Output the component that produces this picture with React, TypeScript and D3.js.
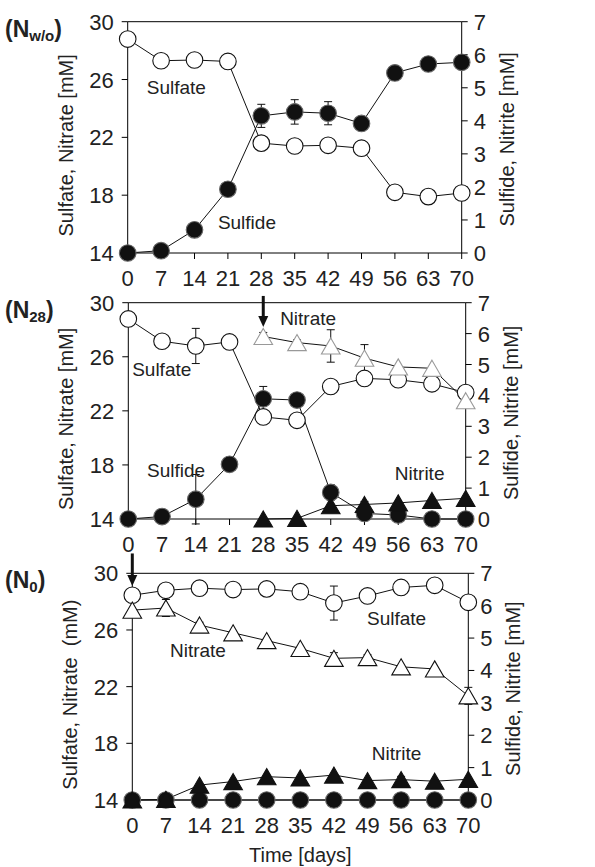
import React from 'react';
import * as d3 from 'd3';

const days = [0, 7, 14, 21, 28, 35, 42, 49, 56, 63, 70];
const daysLate = [28, 35, 42, 49, 56, 63, 70];
const leftTicks = [14, 18, 22, 26, 30];
const rightTicks = [0, 1, 2, 3, 4, 5, 6, 7];

// (Nw/o)
const nwoSulfate = [28.8, 27.3, 27.35, 27.25, 21.6, 21.4, 21.45, 21.25, 18.2, 17.9, 18.15];
const nwoSulfide = [0, 0.07, 0.7, 1.93, 4.15, 4.27, 4.23, 3.92, 5.45, 5.72, 5.77];
const nwoSulfideErr = [0, 0, 0.05, 0.12, 0.35, 0.37, 0.35, 0.05, 0.22, 0.05, 0.05];

// (N28)
const n28Sulfate = [28.8, 27.15, 26.8, 27.1, 21.55, 21.3, 23.8, 24.4, 24.3, 24.0, 23.35];
const n28SulfateErr = [0, 0, 1.3, 0, 0, 0, 0.3, 0, 0, 0, 0];
const n28Nitrate = [27.5, 27.05, 26.8, 25.9, 25.25, 25.15, 22.75];
const n28NitrateErr = [0.3, 0.2, 1.2, 1.0, 0, 0, 0];
const n28Sulfide = [0, 0.08, 0.64, 1.77, 3.89, 3.85, 0.86, 0.18, 0.13, 0, 0];
const n28SulfideErr = [0, 0, 0.8, 0, 0.4, 0, 0.25, 0.2, 0, 0, 0];
const n28Nitrite = [0, 0.02, 0.43, 0.47, 0.52, 0.6, 0.67];
const n28NitriteErr = [0, 0, 0, 0.1, 0, 0, 0];

// (N0)
const n0Sulfate = [28.45, 28.8, 28.95, 28.85, 28.9, 28.7, 27.9, 28.4, 29.0, 29.15, 27.95];
const n0SulfateErr = [0, 0, 0, 0, 0, 0, 1.2, 0.4, 0, 0, 0.15];
const n0Nitrate = [27.4, 27.55, 26.35, 25.8, 25.25, 24.7, 24.0, 24.05, 23.4, 23.25, 21.35];
const n0NitrateErr = [0, 0.6, 0.2, 0.1, 0.1, 0, 0.4, 0.2, 0, 0, 0.6];
const n0Sulfide = [0, 0, 0, 0, 0, 0, 0, 0, 0, 0, 0];
const n0Nitrite = [0, 0.02, 0.46, 0.57, 0.72, 0.68, 0.77, 0.6, 0.63, 0.58, 0.64];
const n0NitriteErr = [0, 0, 0, 0, 0, 0, 0, 0, 0.1, 0, 0];

const font = 'Liberation Sans, Arial, sans-serif';

type Series = {
  x: number[];
  v: number[];
  err?: number[];
  axis: 'l' | 'r';
  mark: 'circle' | 'tri';
  fill: string;
  stroke: string;
};

type Label = { text: string; day: number; val: number };

type PanelProps = {
  top: number;
  bottom: number;
  left: number;
  right: number;
  sub: string;
  leftTitle: string;
  series: Series[];
  labels: Label[];
  arrow?: { day: number; from: number; to: number };
  xTitle?: boolean;
};

const TRI_SIZE = 150;
// d3's triangle sits on its centroid; shift so the box centre is on the point
const triShift = Math.sqrt(TRI_SIZE / (Math.sqrt(3) * 3)) / 2;

function Panel(p: PanelProps) {
  const x = d3.scaleLinear().domain([0, 70]).range([p.left, p.right]);
  const yl = d3.scaleLinear().domain([14, 30]).range([p.bottom, p.top]);
  const yr = d3.scaleLinear().domain([0, 7]).range([p.bottom, p.top]);
  const mid = (p.top + p.bottom) / 2;
  const tri = d3.symbol(d3.symbolTriangle, TRI_SIZE)()!;

  return (
    <g fontFamily={font}>
      {/* frame */}
      <line x1={p.left} x2={p.right} y1={p.top} y2={p.top} stroke="#000" />
      <line x1={p.left} x2={p.right} y1={p.bottom} y2={p.bottom} stroke="#000" />
      <line x1={p.left} x2={p.left} y1={p.top} y2={p.bottom} stroke="#000" />
      <line x1={p.right} x2={p.right} y1={p.top} y2={p.bottom} stroke="#000" />

      {leftTicks.map(t => (
        <g key={'l' + t}>
          <line x1={p.left - 6} x2={p.left} y1={yl(t)} y2={yl(t)} stroke="#000" />
          <text x={p.left - 14} y={yl(t) + 8} fontSize={22} textAnchor="end" fill="#222">{t}</text>
        </g>
      ))}
      {rightTicks.map(t => (
        <g key={'r' + t}>
          <line x1={p.right} x2={p.right + 6} y1={yr(t)} y2={yr(t)} stroke="#000" />
          <text x={p.right + 12} y={yr(t) + 8} fontSize={22} fill="#222">{t}</text>
        </g>
      ))}
      {days.map(d => (
        <g key={'x' + d}>
          <line x1={x(d)} x2={x(d)} y1={p.bottom} y2={p.bottom + 6} stroke="#000" />
          <text x={x(d)} y={p.bottom + 33} fontSize={22} textAnchor="middle" fill="#222">{d}</text>
        </g>
      ))}

      <text transform={`translate(${p.left - 55},${mid + 8}) rotate(-90)`} fontSize={20}
            textAnchor="middle" fill="#222" style={{ whiteSpace: 'pre' }}>{p.leftTitle}</text>
      <text transform={`translate(${p.right + 52},${mid + 2}) rotate(-90)`} fontSize={20}
            textAnchor="middle" fill="#222">Sulfide, Nitrite [mM]</text>

      <text x={5} y={p.top + 15} fontSize={23} fontWeight="bold" fill="#222">
        <tspan>(N</tspan>
        <tspan fontSize={15} dy={4}>{p.sub}</tspan>
        <tspan dy={-4}>)</tspan>
      </text>

      {p.series.map((s, i) => {
        const y = s.axis === 'l' ? yl : yr;
        const line = d3.line<number>().x((_, j) => x(s.x[j])).y(v => y(v));
        return <path key={'p' + i} d={line(s.v)!} fill="none" stroke="#111" strokeWidth={1} />;
      })}
      {p.series.map((s, i) => {
        const y = s.axis === 'l' ? yl : yr;
        return (s.err || []).map((e, j) => e > 0 ? (
          <g key={'e' + i + '-' + j} stroke="#111" strokeWidth={1}>
            <line x1={x(s.x[j])} x2={x(s.x[j])} y1={y(s.v[j] - e)} y2={y(s.v[j] + e)} />
            <line x1={x(s.x[j]) - 4} x2={x(s.x[j]) + 4} y1={y(s.v[j] + e)} y2={y(s.v[j] + e)} />
            <line x1={x(s.x[j]) - 4} x2={x(s.x[j]) + 4} y1={y(s.v[j] - e)} y2={y(s.v[j] - e)} />
          </g>
        ) : null);
      })}
      {p.series.map((s, i) => {
        const y = s.axis === 'l' ? yl : yr;
        return s.v.map((v, j) => s.mark === 'circle' ? (
          <circle key={'m' + i + '-' + j} cx={x(s.x[j])} cy={y(v)} r={8.3}
                  fill={s.fill} stroke={s.stroke} strokeWidth={1.1} />
        ) : (
          <path key={'m' + i + '-' + j} d={tri} transform={`translate(${x(s.x[j])},${y(v) + triShift})`}
                fill={s.fill} stroke={s.stroke} strokeWidth={1.1} />
        ));
      })}

      {p.labels.map(l => (
        <text key={l.text} x={x(l.day)} y={yl(l.val)} fontSize={19} fill="#222">{l.text}</text>
      ))}

      {p.arrow && (
        <g>
          <line x1={x(p.arrow.day)} x2={x(p.arrow.day)} y1={yl(p.arrow.from)} y2={yl(p.arrow.to) - 8}
                stroke="#111" strokeWidth={3} />
          <path d={`M${x(p.arrow.day) - 5},${yl(p.arrow.to) - 11} L${x(p.arrow.day) + 5},${yl(p.arrow.to) - 11} L${x(p.arrow.day)},${yl(p.arrow.to)} Z`}
                fill="#111" />
        </g>
      )}

      {p.xTitle && (
        <text x={(p.left + p.right) / 2} y={p.bottom + 62} fontSize={20} textAnchor="middle" fill="#222">
          Time [days]
        </text>
      )}
    </g>
  );
}

export default function App() {
  return (
    <svg width={595} height={867} style={{ position: 'absolute', left: 0, top: 0, background: '#fff' }}>
      <Panel top={21.7} bottom={253} left={127.7} right={461.7} sub="w/o"
             leftTitle="Sulfate, Nitrate [mM]"
             series={[
               { x: days, v: nwoSulfate, axis: 'l', mark: 'circle', fill: '#fff', stroke: '#111' },
               { x: days, v: nwoSulfide, err: nwoSulfideErr, axis: 'r', mark: 'circle', fill: '#111', stroke: '#666' },
             ]}
             labels={[
               { text: 'Sulfate', day: 4.0, val: 25.0 },
               { text: 'Sulfide', day: 18.9, val: 15.65 },
             ]} />
      <Panel top={302.7} bottom={519} left={128.3} right={465.7} sub="28"
             leftTitle="Sulfate, Nitrate [mM]"
             series={[
               { x: days, v: n28Sulfate, err: n28SulfateErr, axis: 'l', mark: 'circle', fill: '#fff', stroke: '#111' },
               { x: daysLate, v: n28Nitrate, err: n28NitrateErr, axis: 'l', mark: 'tri', fill: '#fff', stroke: '#999' },
               { x: days, v: n28Sulfide, err: n28SulfideErr, axis: 'r', mark: 'circle', fill: '#111', stroke: '#666' },
               { x: daysLate, v: n28Nitrite, err: n28NitriteErr, axis: 'r', mark: 'tri', fill: '#111', stroke: '#111' },
             ]}
             labels={[
               { text: 'Nitrate', day: 31.5, val: 28.35 },
               { text: 'Sulfate', day: 0.8, val: 24.58 },
               { text: 'Sulfide', day: 3.9, val: 17.1 },
               { text: 'Nitrite', day: 55.3, val: 16.9 },
             ]}
             arrow={{ day: 28, from: 30.5, to: 28.2 }} />
      <Panel top={573.3} bottom={800} left={132.3} right={468.3} sub="0"
             leftTitle="Sulfate, Nitrate  (mM)"
             series={[
               { x: days, v: n0Sulfate, err: n0SulfateErr, axis: 'l', mark: 'circle', fill: '#fff', stroke: '#111' },
               { x: days, v: n0Nitrate, err: n0NitrateErr, axis: 'l', mark: 'tri', fill: '#fff', stroke: '#111' },
               { x: days, v: n0Sulfide, axis: 'r', mark: 'circle', fill: '#111', stroke: '#666' },
               { x: days, v: n0Nitrite, err: n0NitriteErr, axis: 'r', mark: 'tri', fill: '#111', stroke: '#111' },
             ]}
             labels={[
               { text: 'Sulfate', day: 48.9, val: 26.35 },
               { text: 'Nitrate', day: 7.85, val: 24.09 },
               { text: 'Nitrite', day: 49.9, val: 16.82 },
             ]}
             arrow={{ day: 0, from: 31.4, to: 29.1 }}
             xTitle />
    </svg>
  );
}
